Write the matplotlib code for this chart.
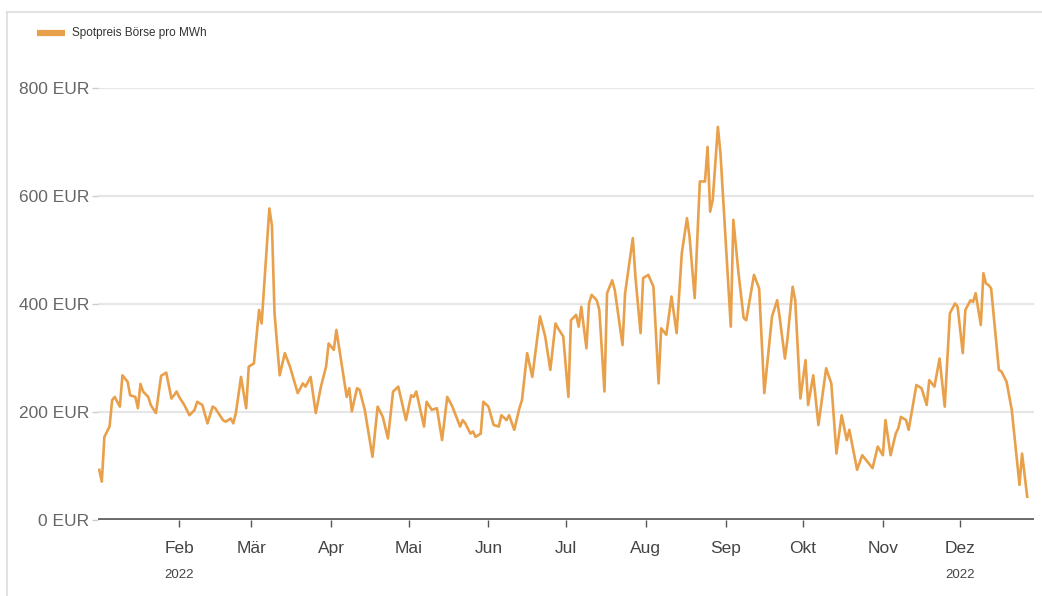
import numpy as np
import pandas as pd
import matplotlib
matplotlib.use("Agg")
import matplotlib.pyplot as plt
import matplotlib.transforms as mtransforms
from matplotlib.lines import Line2D

# day offset from 1 Jan 2022 and spot price (EUR/MWh)
days = [0, 1, 2, 4, 5, 6, 8, 9, 11, 12, 14, 15, 16, 17, 19, 20, 22, 24, 26, 28,
        29, 30, 31, 33, 35, 37, 38, 40, 42, 44, 45, 48, 49, 51, 52, 53, 55, 57, 58, 60,
        62, 63, 66, 67, 68, 70, 72, 74, 77, 79, 80, 82, 84, 86, 88, 89, 91, 92, 93, 96,
        97, 98, 100, 101, 103, 106, 108, 110, 112, 114, 116, 119, 121, 122, 123, 126, 127, 129, 131, 133,
        135, 137, 140, 141, 142, 144, 145, 146, 148, 149, 151, 153, 155, 156, 158, 159, 161, 163, 164, 166,
        168, 171, 173, 175, 177, 178, 180, 182, 183, 185, 186, 187, 189, 190, 191, 193, 194, 196, 197, 199,
        200, 203, 204, 207, 208, 210, 211, 213, 215, 217, 218, 220, 222, 224, 226, 228, 229, 231, 233, 235,
        236, 237, 238, 240, 241, 243, 245, 246, 248, 250, 251, 253, 254, 256, 258, 261, 263, 264, 266, 267,
        269, 270, 272, 274, 275, 277, 279, 282, 284, 286, 288, 290, 291, 294, 296, 300, 302, 304, 305, 307,
        309, 310, 311, 313, 314, 317, 319, 321, 322, 324, 326, 328, 330, 332, 333, 335, 336, 338, 339, 340,
        342, 343, 344, 345, 346, 349, 350, 352, 354, 357, 358, 360]
price = [93, 71, 154, 173, 222, 228, 210, 268, 256, 231, 228, 207, 252, 238, 228, 213, 198, 267, 273, 225,
         231, 238, 228, 213, 194, 204, 219, 213, 179, 210, 207, 185, 182, 188, 179, 198, 265, 207, 284, 290,
         389, 364, 577, 545, 383, 268, 309, 284, 235, 253, 247, 265, 198, 247, 284, 327, 315, 352, 321, 228,
         244, 201, 244, 241, 204, 117, 210, 191, 151, 238, 247, 185, 231, 228, 238, 173, 219, 204, 207, 148,
         228, 210, 173, 185, 179, 160, 164, 154, 160, 219, 210, 176, 173, 194, 185, 194, 167, 207, 222, 309,
         265, 377, 340, 278, 364, 355, 340, 228, 370, 380, 358, 395, 318, 401, 417, 407, 389, 238, 420, 444,
         426, 324, 420, 522, 451, 346, 448, 454, 432, 253, 355, 343, 414, 346, 494, 559, 525, 411, 627, 627,
         691, 571, 593, 728, 679, 519, 358, 556, 457, 374, 370, 426, 454, 429, 235, 377, 407, 374, 299, 336,
         432, 407, 225, 296, 213, 268, 176, 281, 253, 123, 194, 148, 167, 93, 120, 96, 136, 120, 185, 120,
         160, 170, 191, 185, 167, 250, 244, 213, 259, 247, 299, 210, 383, 401, 395, 309, 389, 407, 404, 420,
         361, 457, 438, 435, 429, 278, 275, 256, 204, 65, 123, 43]

months = ["Feb", "Mär", "Apr", "Mai", "Jun", "Jul", "Aug", "Sep", "Okt", "Nov", "Dez"]
y_ticks = [0, 200, 400, 600, 800]
series_name = "Spotpreis Börse pro MWh"

orange = "#e9a04b"
label_grey = "#666666"
plt.rcParams["font.family"] = ["Liberation Sans", "DejaVu Sans"]

start = pd.Timestamp("2022-01-01")
dates = start + pd.to_timedelta(days, unit="D")
month_starts = pd.date_range("2022-02-01", "2022-12-01", freq="MS")

fig = plt.figure(figsize=(10.42, 5.96), dpi=100)
ax = fig.add_axes([0.094, 0.1275, 0.898, 0.7248])

ax.plot(dates, price, color=orange, lw=1.9, solid_joinstyle="round", zorder=3)

ax.set_ylim(0, 800)
ax.set_xlim(start - pd.Timedelta(hours=12), pd.Timestamp("2022-12-29 12:00"))

for s in ax.spines.values():
    s.set_visible(False)

for v in y_ticks[1:]:
    ax.axhline(v, color="#e6e6e6", lw=1.6, zorder=1)
ax.axhline(0, color="#6a6a6a", lw=2.8, zorder=2)

ax.set_yticks(y_ticks)
ax.set_yticklabels([f"{v} EUR" for v in y_ticks], fontsize=12.5, color=label_grey)
ax.tick_params(axis="y", length=4, width=1, color="#cccccc", pad=2)

ax.set_xticks(month_starts)
ax.set_xticklabels(months, fontsize=12.5, color="#444444")
ax.tick_params(axis="x", length=5, width=1, color="#555555", pad=10)

# year under first and last month label
trans = mtransforms.blended_transform_factory(ax.transData, ax.transAxes)
for d in [month_starts[0], month_starts[-1]]:
    ax.text(d, -0.128, "2022", transform=trans, ha="center", va="center",
            fontsize=9.5, color="#444444")

# legend entry at the top left
fig.add_artist(Line2D([37 / 1042, 65 / 1042], [1 - 33 / 596, 1 - 33 / 596],
                      color=orange, lw=4.5, solid_capstyle="butt"))
fig.text(72 / 1042, 1 - 33 / 596, series_name, fontsize=8.5, color="#333333",
         va="center", ha="left")

# thin frame on top and left
fig.add_artist(Line2D([7 / 1042, 1.0], [1 - 12 / 596, 1 - 12 / 596], color="#dddddd", lw=1.2))
fig.add_artist(Line2D([7 / 1042, 7 / 1042], [0, 1 - 12 / 596], color="#dddddd", lw=1.2))

fig.savefig("out.png", dpi=100, facecolor="white")
